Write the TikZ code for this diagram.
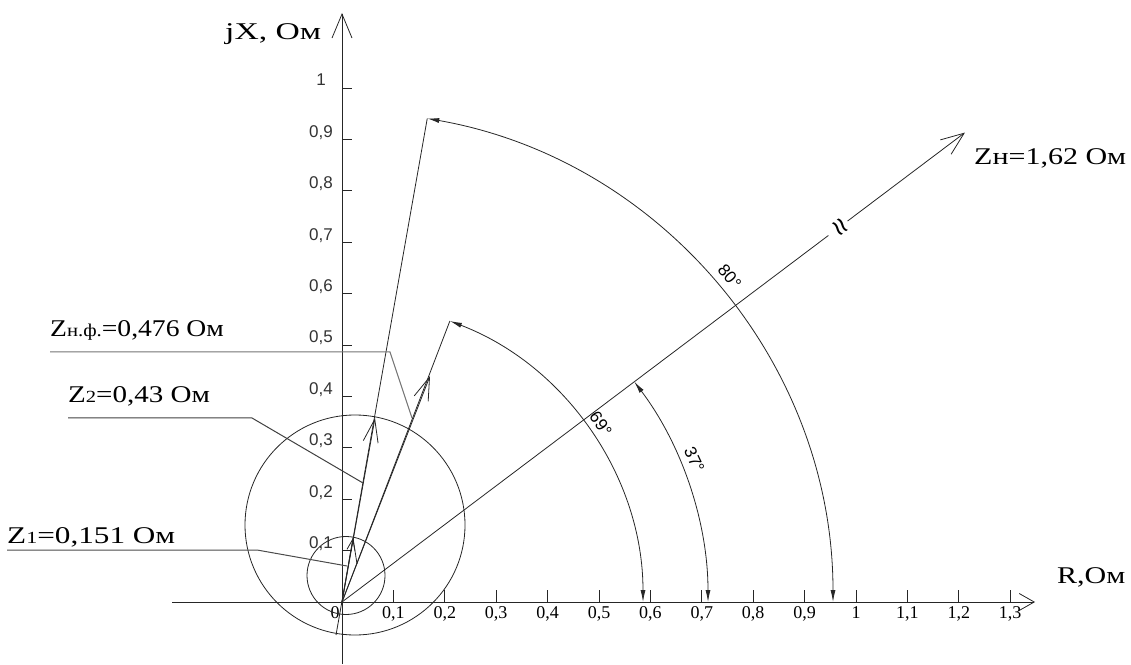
\documentclass[tikz,border=0pt]{standalone}
\usepackage{fontspec}
\usepackage{graphicx}
\setmainfont{Liberation Serif}
\newfontfamily\sansf{Liberation Sans}
\newcommand{\stretchtxt}[2][1.25]{\scalebox{#1}[1]{#2}}
\usetikzlibrary{arrows.meta}
\begin{document}
\begin{tikzpicture}[x=1pt,y=1pt,
  ln/.style={line width=0.8pt, black!85},
  vtip/.style={-{Straight Barb[length=23pt,width=15pt,line width=0.8pt]}},
  smalltip/.style={-{Straight Barb[length=11pt,width=8pt,line width=0.8pt]}},
  dim/.style={{Latex[length=12pt,width=5pt]}-{Latex[length=12pt,width=5pt]}},
  xlab/.style={anchor=base, font=\fontsize{18}{18}\selectfont},
  ylab/.style={anchor=base, text=black!80, font=\sansf\fontsize{17}{17}\selectfont},
  anglab/.style={inner sep=1pt, font=\sansf\fontsize{17}{17}\selectfont},
  biglab/.style={anchor=base west, inner sep=0pt, font=\fontsize{24}{24}\selectfont},
  lead/.style={line width=1pt, black!55}]
\useasboundingbox (0,0) rectangle (1131,664);
\begin{scope}[shift={(342,62)}]
  \coordinate (O) at (0,0);
  % axes
  \coordinate (xa) at (-170,0);
  \coordinate (xb) at (693,0);
  \coordinate (ya) at (0,-62);
  \coordinate (yb) at (0,589);
  \draw[ln, -{Straight Barb[length=15pt,width=17pt,line width=0.8pt]}] (xa) -- (xb);
  \draw[ln, -{Straight Barb[length=24pt,width=20pt,line width=0.8pt]}] (ya) -- (yb);
  % x ticks
  \foreach \i/\t in {1/{0,1},2/{0,2},3/{0,3},4/{0,4},5/{0,5},6/{0,6},7/{0,7},8/{0,8},9/{0,9},10/{1},11/{1,1},12/{1,2},13/{1,3}}{
    \draw[ln] (\i*51.4,0) -- (\i*51.4,12);
    \node[xlab] (xl\i) at (\i*51.4,-16) {\t};
  }
  \node[xlab] (xl0) at (-7,-16) {0};
  % y ticks
  \foreach \i/\t in {1/{0,1},2/{0,2},3/{0,3},4/{0,4},5/{0,5},6/{0,6},7/{0,7},8/{0,8},9/{0,9},10/{1}}{
    \draw[ln] (0,\i*51.4) -- (10,\i*51.4);
    \node[ylab] (yl\i) at (-21,\i*51.4+2) {\t};
  }
  % axis titles
  \node[biglab] (jx) at (-117,562) {\stretchtxt[1.4]{jX, Ом}};
  \node[biglab] (rr) at (715,19) {\stretchtxt{R,Ом}};
  % circles
  \draw[ln] (13,77) circle[radius=110];
  \draw[ln] (4,26.5) circle[radius=39];
  % 80 deg line
  \coordinate (a80s) at (-6,-33);
  \coordinate (a80e) at (80:491);
  \coordinate (a80m) at (33,184);
  \draw[ln] (a80s) -- (a80e);
  \draw[ln, vtip] (O) -- (a80m);
  % 69 deg line
  \coordinate (a69e) at (69:301);
  \coordinate (a69m) at (88,226);
  \draw[ln] (O) -- (a69e);
  \draw[ln, vtip] (O) -- (a69m);
  % small vector
  \coordinate (z1t) at (11,64);
  \coordinate (z1b) at (15,38);
  \draw[ln, smalltip] (O) -- (z1t);
  \draw[ln] (z1t) -- (z1b);
  % Z_H line with break
  \coordinate (zg1) at (37:609);
  \coordinate (zg2) at (37:633);
  \coordinate (zbr) at (37:621);
  \coordinate (zhe) at (37:780);
  \draw[ln] (O) -- (zg1);
  \draw[ln, -{Straight Barb[length=23pt,width=18pt,line width=0.8pt]}] (zg2) -- (zhe);
  \node[rotate=-53, inner sep=0pt, font=\sansf\fontsize{30}{30}\selectfont] (brk) at (zbr) {≈};
  % angle arcs
  \draw[ln, dim] (80:491) arc[start angle=80, end angle=0, radius=491];
  \draw[ln, dim] (69:301) arc[start angle=69, end angle=0, radius=301];
  \draw[ln, dim] (37:366) arc[start angle=37, end angle=0, radius=366];
  \node[anglab, rotate=-50] (l80) at (40:506) {80°};
  \node[anglab, rotate=-55] (l69) at (34.5:314) {69°};
  \node[anglab, rotate=-65] (l37) at (22:380) {37°};
  % labels
  \node[biglab] (lzh) at (632,437) {\stretchtxt{Zн=1,62 Ом}};
  \node[biglab] (lzhf) at (-292,265) {\stretchtxt[1.15]{Z{\fontsize{18}{18}\selectfont н.ф.}=0,476 Ом}};
  \node[biglab] (lz2) at (-274,199) {\stretchtxt[1.21]{Z{\fontsize{17}{17}\selectfont 2}=0,43 Ом}};
  \node[biglab] (lz1) at (-335,59) {\stretchtxt[1.3]{Z{\fontsize{17}{17}\selectfont 1}=0,151 Ом}};
  % leaders
  \coordinate (p1) at (-292,250);
  \coordinate (p2) at (48,250);
  \coordinate (p3) at (70,184);
  \draw[lead] (p1) -- (p2) -- (p3);
  \coordinate (q1) at (-274,184);
  \coordinate (q2) at (-90,184);
  \coordinate (q3) at (21,119);
  \draw[lead, black!75] (q1) -- (q2) -- (q3);
  \coordinate (r1) at (-335,52);
  \coordinate (r2) at (-85,52);
  \coordinate (r3) at (5,36);
  \draw[lead, black!70] (r1) -- (r2) -- (r3);
\end{scope}
\end{tikzpicture}
\end{document}
